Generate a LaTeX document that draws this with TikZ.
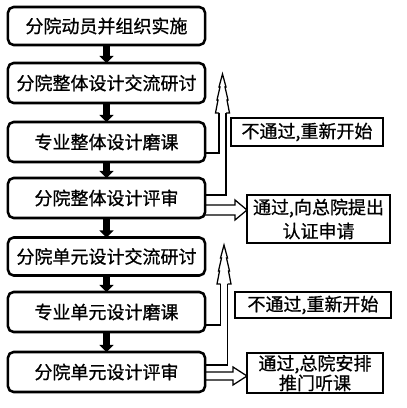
\documentclass[tikz,border=0pt]{standalone}
\usepackage{fontspec}
\newfontfamily\cjk[FakeBold=0.8]{Noto Sans CJK SC}
\usetikzlibrary{arrows.meta,calc}
\tikzset{
  stepbox/.style={draw,line width=1.8pt,rounded corners=4pt,minimum width=4.925cm,minimum height=1cm,inner sep=0pt,outer sep=0pt,font=\cjk\fontsize{12.8pt}{16pt}\selectfont},
  notebox/.style={draw,line width=0.9pt,inner sep=0pt,outer sep=0pt,align=center,font=\cjk\fontsize{12.8pt}{16pt}\selectfont},
  downarrow/.style={line width=5pt,-{Triangle[length=5pt,width=10pt]}},
  thinline/.style={line width=0.9pt,line join=miter},
}
\begin{document}
\begin{tikzpicture}[x=0.025cm,y=-0.025cm]
\useasboundingbox (0,0) rectangle (407,408);
% left column
\node[stepbox,minimum height=0.95cm] (b1) at (106.5,26) {分院动员并组织实施};
\node[stepbox] (b2) at (106.5,83) {分院整体设计交流研讨};
\node[stepbox] (b3) at (106.5,142) {专业整体设计磨课};
\node[stepbox] (b4) at (106.5,198) {分院整体设计评审};
\node[stepbox,minimum height=0.95cm] (b5) at (106.5,256.5) {分院单元设计交流研讨};
\node[stepbox] (b6) at (106.5,312) {专业单元设计磨课};
\node[stepbox] (b7) at (106.5,372) {分院单元设计评审};

% right column
\node[notebox,minimum width=3.8cm,minimum height=0.7cm] (r1) at (307,132) {不通过,重新开始};
\node[notebox,minimum width=3.575cm,minimum height=1.2cm] (r2) at (318.5,219) {通过,向总院提出\\[1pt]认证申请};
\node[notebox,minimum width=3.9cm,minimum height=0.65cm] (r3) at (313,305) {不通过,重新开始};
\node[notebox,minimum width=3.4cm,minimum height=1cm] (r4) at (315,373) {通过,总院安排\\[-2pt]推门听课};

\coordinate (t1) at (222.5,74);
\coordinate (t2) at (224,245);

\draw[downarrow] (b1) -- (b2);
\draw[downarrow] (b2) -- (b3);
\draw[downarrow] (b3) -- (b4);
\draw[downarrow] (b4) -- (b5);
\draw[downarrow] (b5) -- (b6);
\draw[downarrow] (b6) -- (b7);

% back arrows
\draw[thinline] ($(b3.east)+(0,11)$) -| ($(t1)+(-3.5,39)$);
\draw[thinline] ($(b4.east)+(0,-3)$) -| ($(t1)+(3.5,39)$);
\draw[thinline] ($(t1)+(-3.5,39)$) -- ++(-3.5,0) -- ++(2.5,-13) -- ++(-1,0) -- ++(3,-13) -- ++(-1,0) -- ++(3.5,-13) -- ++(3.5,13) -- ++(-1,0) -- ++(3,13) -- ++(-1,0) -- ++(2.5,13) -- ++(-3.5,0);
\draw[thinline] ($(b6.east)+(0,13)$) -| ($(t2)+(-3.5,39)$);
\draw[thinline] ($(b7.east)+(0,-7)$) -| ($(t2)+(3.5,39)$);
\draw[thinline] ($(t2)+(-3.5,39)$) -- ++(-3.5,0) -- ++(2.5,-13) -- ++(-1,0) -- ++(3,-13) -- ++(-1,0) -- ++(3.5,-13) -- ++(3.5,13) -- ++(-1,0) -- ++(3,13) -- ++(-1,0) -- ++(2.5,13) -- ++(-3.5,0);

% pass arrows
\draw[thinline] ($(b4.east)+(0,7)$) -- ++(30,0) -- ++(0,-5) -- ($(r2.west |- b4.east)+(0,12)$) -- ++(-12,10) -- ++(0,-5) -- ($(b4.east)+(0,17)$);
\draw[thinline] (b7.east) -- ++(28,0) -- ++(0,-5) -- ($(r4.west |- b7.east)+(0,4)$) -- ++(-14,9) -- ++(0,-5) -- ($(b7.east)+(0,8)$);
\end{tikzpicture}
\end{document}
